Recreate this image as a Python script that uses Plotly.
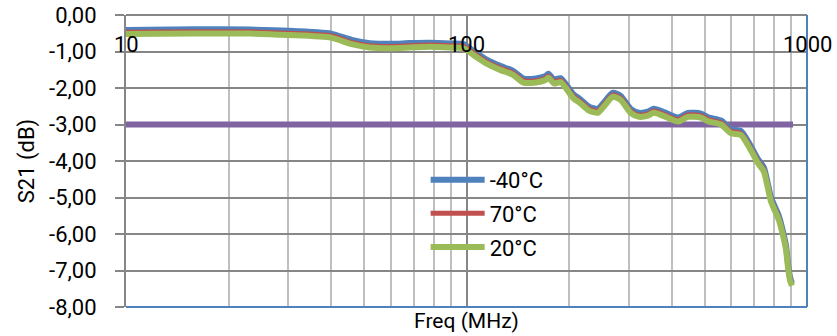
import math
import plotly.graph_objects as go

# Frequency points (MHz)
freq = [10, 16, 23, 30, 40, 46, 52, 60, 68, 78, 90, 98, 105, 115, 126, 137, 147, 160, 170, 174,
        181, 189, 206, 216, 229, 243, 253, 269, 284, 304, 321, 341, 355, 380, 418, 447, 488, 515,
        559, 598, 640, 675, 718, 747, 784, 827, 856, 868, 879, 891, 903]

# S21 (dB) per temperature
s21_m40 = [-0.41, -0.39, -0.40, -0.43, -0.51, -0.68, -0.77, -0.79, -0.77, -0.76, -0.78, -0.80,
           -0.99, -1.23, -1.40, -1.53, -1.74, -1.74, -1.68, -1.61, -1.77, -1.73, -2.17, -2.31,
           -2.51, -2.57, -2.40, -2.13, -2.22, -2.58, -2.68, -2.65, -2.57, -2.66, -2.81, -2.68,
           -2.70, -2.81, -2.89, -3.13, -3.18, -3.50, -3.95, -4.18, -5.00, -5.51, -6.05, -6.33,
           -6.79, -7.16, -7.35]
s21_70 = [-0.47, -0.46, -0.46, -0.50, -0.57, -0.75, -0.84, -0.86, -0.84, -0.82, -0.84, -0.86,
          -1.05, -1.29, -1.46, -1.59, -1.80, -1.80, -1.74, -1.67, -1.83, -1.79, -2.23, -2.37,
          -2.57, -2.63, -2.46, -2.19, -2.28, -2.64, -2.74, -2.71, -2.63, -2.72, -2.87, -2.74,
          -2.76, -2.87, -2.95, -3.19, -3.24, -3.56, -4.01, -4.24, -5.06, -5.57, -6.11, -6.39,
          -6.85, -7.21, -7.39]
s21_20 = [-0.52, -0.51, -0.51, -0.55, -0.62, -0.80, -0.89, -0.91, -0.89, -0.87, -0.89, -0.91,
          -1.10, -1.34, -1.51, -1.64, -1.85, -1.85, -1.79, -1.72, -1.88, -1.84, -2.28, -2.42,
          -2.62, -2.68, -2.51, -2.24, -2.33, -2.69, -2.79, -2.76, -2.68, -2.77, -2.92, -2.79,
          -2.81, -2.92, -3.00, -3.24, -3.29, -3.61, -4.06, -4.29, -5.11, -5.62, -6.16, -6.44,
          -6.90, -7.26, -7.42]

# -3 dB reference line
ref_freq = [10, 910]
ref_level = [-3, -3]

series_names = ["-40°C", "70°C", "20°C"]
series_colors = ["#4f81bd", "#c0504d", "#9bbb59"]

y_tickvals = [0, -1, -2, -3, -4, -5, -6, -7, -8]
y_ticktext = ["0,00", "-1,00", "-2,00", "-3,00", "-4,00", "-5,00", "-6,00", "-7,00", "-8,00"]
x_tickvals = [10, 100, 1000]
x_ticktext = ["10", "100", "1000"]

FONT = "Roboto, 'Open Sans', sans-serif"

fig = go.Figure()

fig.add_trace(go.Scatter(
    x=ref_freq, y=ref_level, mode="lines", showlegend=False,
    line=dict(color="#8064a2", width=6), hoverinfo="skip"))

for name, vals, color, width in zip(series_names, [s21_m40, s21_70, s21_20], series_colors, [6, 5, 6]):
    fig.add_trace(go.Scatter(
        x=freq, y=vals, name=name, mode="lines", legendgroup=name,
        line=dict(color=color, width=width, shape="spline", smoothing=0.6)))

# frequency labels sit inside the plot, just under the top edge
for xv, txt in zip(x_tickvals, x_ticktext):
    fig.add_annotation(x=math.log10(xv), y=-0.82, xref="x", yref="y", text=txt, showarrow=False,
                       xanchor="center", yanchor="middle",
                       font=dict(family=FONT, size=22, color="#000000"))

# plot border: top/left grey, right/bottom blue
fig.add_shape(type="line", xref="paper", yref="paper", x0=0, x1=1, y0=1, y1=1,
              line=dict(color="#868686", width=2))
fig.add_shape(type="line", xref="paper", yref="paper", x0=1, x1=1, y0=0, y1=1,
              line=dict(color="#4f81bd", width=2))
fig.add_shape(type="line", xref="paper", yref="paper", x0=0, x1=1, y0=0, y1=0,
              line=dict(color="#4f81bd", width=2))

fig.update_layout(
    width=837, height=336,
    margin=dict(l=126, r=30, t=15, b=29),
    paper_bgcolor="white", plot_bgcolor="white",
    font=dict(family=FONT, size=22, color="#000000"),
    showlegend=True,
    legend=dict(x=0.44, y=0.507, xanchor="left", yanchor="top",
                bgcolor="rgba(0,0,0,0)", borderwidth=0,
                font=dict(family=FONT, size=22), tracegroupgap=2,
                itemwidth=54),
    xaxis=dict(
        type="log", range=[1, 3], tickvals=x_tickvals, showticklabels=False,
        showgrid=True, gridcolor="#868686", gridwidth=1.5, ticks="",
        showline=False, zeroline=False, automargin=False,
        minor=dict(showgrid=True, gridcolor="#bfbfbf", gridwidth=1.5, dtick="D1"),
        title=dict(text="Freq (MHz)", font=dict(family=FONT, size=21), standoff=6),
    ),
    yaxis=dict(
        range=[-8, 0], tickvals=y_tickvals, ticktext=y_ticktext,
        showgrid=True, gridcolor="#868686", gridwidth=1.5,
        ticks="outside", ticklen=9, tickwidth=1.5, tickcolor="#868686",
        ticklabelstandoff=14, automargin=False,
        showline=True, linecolor="#868686", linewidth=2, zeroline=False,
        title=dict(text="S21 (dB)", font=dict(family=FONT, size=22), standoff=8),
    ),
)

fig.write_html("out.html")
